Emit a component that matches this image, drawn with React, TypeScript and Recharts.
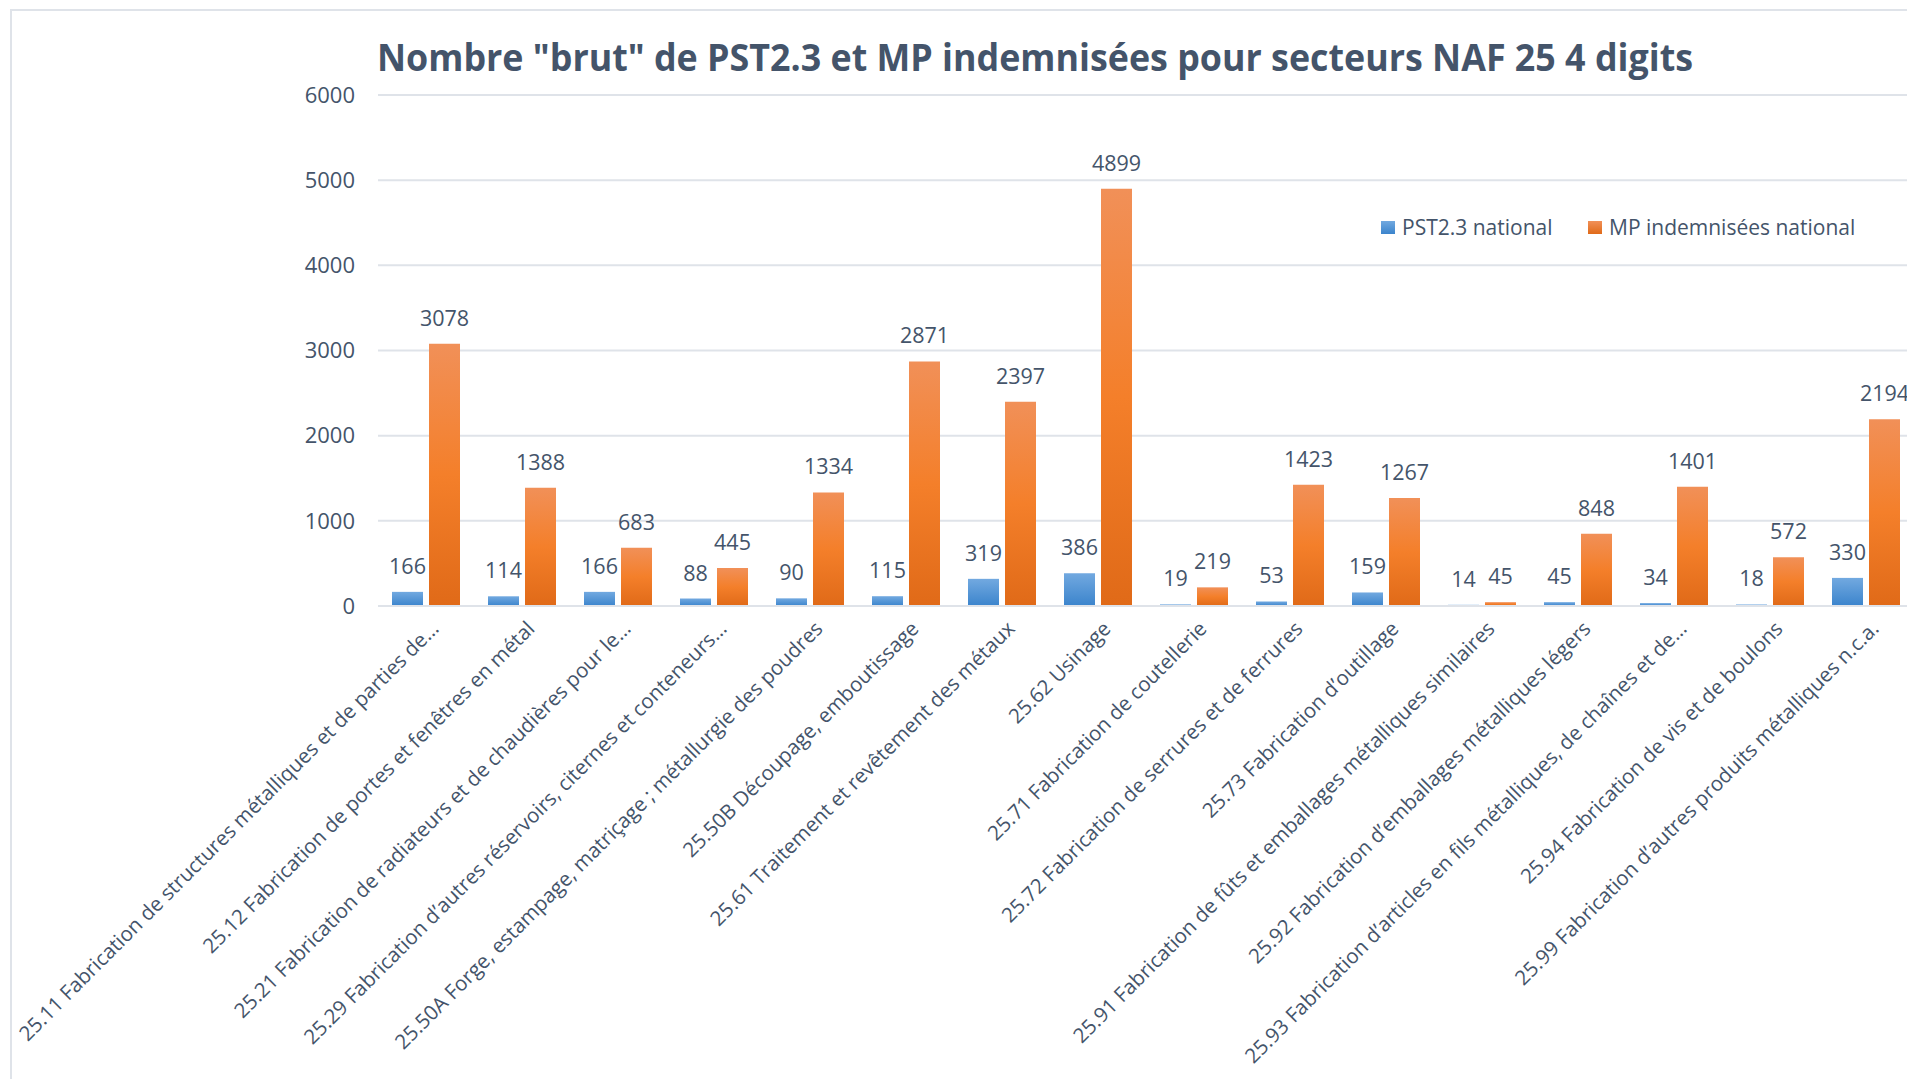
import { BarChart, Bar, XAxis, YAxis, CartesianGrid, LabelList } from 'recharts';

const categories = [
  '25.11 Fabrication de structures métalliques et de parties de…',
  '25.12 Fabrication de portes et fenêtres en métal',
  '25.21 Fabrication de radiateurs et de chaudières pour le…',
  '25.29 Fabrication d’autres réservoirs, citernes et conteneurs…',
  '25.50A Forge, estampage, matriçage ; métallurgie des poudres',
  '25.50B Découpage, emboutissage',
  '25.61 Traitement et revêtement des métaux',
  '25.62 Usinage',
  '25.71 Fabrication de coutellerie',
  '25.72 Fabrication de serrures et de ferrures',
  '25.73 Fabrication d’outillage',
  '25.91 Fabrication de fûts et emballages métalliques similaires',
  '25.92 Fabrication d’emballages métalliques légers',
  '25.93 Fabrication d’articles en fils métalliques, de chaînes et de…',
  '25.94 Fabrication de vis et de boulons',
  '25.99 Fabrication d’autres produits métalliques n.c.a.',
];
const pstNational = [166, 114, 166, 88, 90, 115, 319, 386, 19, 53, 159, 14, 45, 34, 18, 330];
const mpNational = [3078, 1388, 683, 445, 1334, 2871, 2397, 4899, 219, 1423, 1267, 45, 848, 1401, 572, 2194];
const yTicks = [0, 1000, 2000, 3000, 4000, 5000, 6000];

const title = 'Nombre "brut" de PST2.3 et MP indemnisées pour secteurs NAF 25 4 digits';
const textColor = '#44546a';
const gridColor = '#dfe3e9';

const data = categories.map((name, i) => ({ name, pst: pstNational[i], mp: mpNational[i] }));

function CategoryTick({ x, y, payload }: any) {
  return (
    <g transform={`translate(${x + 14},${y + 24})`}>
      <text textAnchor="end" transform="rotate(-45)" fontSize={20.5} fill={textColor}>{payload.value}</text>
    </g>
  );
}

function LegendItem({ left, label, swatch }: { left: number; label: string; swatch: string }) {
  return (
    <div style={{ position: 'absolute', left, top: 213, height: 28, display: 'flex', alignItems: 'center', whiteSpace: 'nowrap' }}>
      <div style={{ width: 14, height: 13, background: swatch, marginRight: 7 }} />
      <span style={{ fontSize: 21, lineHeight: '28px', color: textColor }}>{label}</span>
    </div>
  );
}

export default function App() {
  return (
    <div style={{ position: 'fixed', left: 0, top: 0, width: 1907, height: 1079, overflow: 'hidden', background: '#fff', fontFamily: "'Open Sans', sans-serif" }}>
      <div style={{ position: 'absolute', left: 10, top: 9, right: -20, bottom: -20, borderLeft: `2px solid ${gridColor}`, borderTop: `2px solid ${gridColor}` }} />
      <div style={{ position: 'absolute', left: 0, top: 0 }}>
        <BarChart width={1930} height={1079} data={data} margin={{ top: 95, right: 16, bottom: 0, left: 298 }} barCategoryGap={14} barGap={6}>
          <defs>
            <linearGradient id="blueFill" x1="0" y1="0" x2="0" y2="1">
              <stop offset="0%" stopColor="#72a9e0" />
              <stop offset="100%" stopColor="#3b84cc" />
            </linearGradient>
            <linearGradient id="orangeFill" x1="0" y1="0" x2="0" y2="1">
              <stop offset="0%" stopColor="#f19058" />
              <stop offset="50%" stopColor="#f47f2a" />
              <stop offset="100%" stopColor="#e06a18" />
            </linearGradient>
          </defs>
          <CartesianGrid vertical={false} stroke={gridColor} strokeWidth={2} />
          <XAxis dataKey="name" interval={0} tickLine={false} tickSize={0} tickMargin={0} axisLine={{ stroke: gridColor, strokeWidth: 2 }} height={473} tick={<CategoryTick />} />
          <YAxis domain={[0, 6000]} ticks={yTicks} width={80} axisLine={false} tickLine={false} tickSize={6} tickMargin={17} tick={{ fill: textColor, fontSize: 22 }} />
          <Bar dataKey="pst" name="PST2.3 national" fill="url(#blueFill)" isAnimationActive={false}>
            <LabelList dataKey="pst" position="top" offset={18} fill={textColor} fontSize={21.5} />
          </Bar>
          <Bar dataKey="mp" name="MP indemnisées national" fill="url(#orangeFill)" isAnimationActive={false}>
            <LabelList dataKey="mp" position="top" offset={18} fill={textColor} fontSize={21.5} />
          </Bar>
        </BarChart>
      </div>
      <svg style={{ position: 'absolute', left: 0, top: 0 }} width={1907} height={110}>
        <text x={377} y={71} fontSize={37} fontWeight={700} fill={textColor} textLength={1316} lengthAdjust="spacingAndGlyphs">{title}</text>
      </svg>
      <LegendItem left={1381} label="PST2.3 national" swatch="linear-gradient(#72a9e0, #3b84cc)" />
      <LegendItem left={1588} label="MP indemnisées national" swatch="linear-gradient(#f19058, #e06a18)" />
    </div>
  );
}
